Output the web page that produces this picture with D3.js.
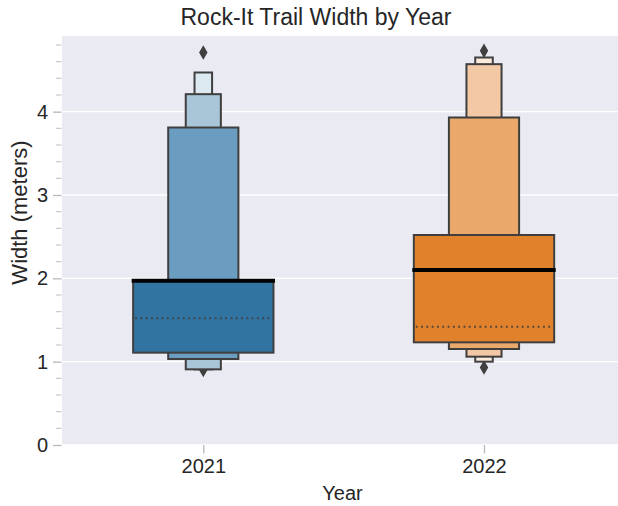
<!DOCTYPE html>
<html>
<head>
<meta charset="utf-8">
<script src="https://cdn.jsdelivr.net/npm/d3@7"></script>
<style>
  html, body { margin: 0; padding: 0; background: #ffffff; }
  svg { display: block; }
  text { font-family: "Liberation Sans", Arial, sans-serif; fill: #262626; }
</style>
</head>
<body>
<svg id="chart" width="618" height="506"></svg>
<script>
// Trail width survey, letter-value summary per year
const years = ["2021", "2022"];
// letter-value boxes, innermost (quartiles) first, then eighths, sixteenths, ...
const lowerValues = [
  [1.108, 1.032, 0.908, 0.908],
  [1.232, 1.152, 1.060, 1.000]
];
const upperValues = [
  [1.98, 3.81, 4.21, 4.47],
  [2.52, 3.93, 4.57, 4.65]
];
const medians = [1.97, 2.10];
const means = [1.52, 1.42];
const outliers = [
  [4.71, 0.90],
  [4.73, 0.93]
];
const yTicks = [0, 1, 2, 3, 4];
const yMinorTicks = d3.range(0, 4.81, 0.2);
const levelColors = [
  ["#3274a1", "#6b9dc1", "#a8c6d8", "#dde9f0"],
  ["#e1812c", "#eaa86a", "#f3c8a5", "#fbebdc"]
];

const svg = d3.select("#chart");
const plot = { left: 62, right: 618, top: 36, bottom: 445 };

const y = d3.scaleLinear().domain([0, 4.908]).range([plot.bottom, plot.top]);
const x = d3.scalePoint().domain(years).range([203.3, 484]);
const unit = x(years[1]) - x(years[0]);  // pixels per category step

// background panel
svg.append("rect")
  .attr("x", plot.left).attr("y", plot.top)
  .attr("width", plot.right - plot.left).attr("height", plot.bottom - plot.top)
  .attr("fill", "#eaeaf2");

// horizontal grid
svg.append("g").selectAll("line").data(yTicks).join("line")
  .attr("x1", plot.left).attr("x2", plot.right)
  .attr("y1", d => y(d)).attr("y2", d => y(d))
  .attr("stroke", "#ffffff").attr("stroke-width", 1.3);

// y axis: major and minor ticks
const yAxis = svg.append("g").attr("transform", `translate(${plot.left - 0.5},0)`);
yAxis.call(d3.axisLeft(y).tickValues(yTicks).tickSize(8.5).tickPadding(5).tickFormat(d3.format("d")))
  .call(g => g.select(".domain").remove())
  .call(g => g.selectAll(".tick line").attr("stroke", "#b8b8b8").attr("stroke-width", 1.3))
  .call(g => g.selectAll(".tick text").attr("font-size", 20).attr("fill", "#262626")
      .style("font-family", "'Liberation Sans', Arial, sans-serif"));
svg.append("g").selectAll("line")
  .data(yMinorTicks.filter(v => Math.abs(v - Math.round(v)) > 0.01))
  .join("line")
  .attr("x1", plot.left - 6).attr("x2", plot.left - 0.5)
  .attr("y1", d => y(d)).attr("y2", d => y(d))
  .attr("stroke", "#c4c4c4").attr("stroke-width", 1.1);

// x axis
const xAxis = svg.append("g").attr("transform", `translate(0,${plot.bottom})`);
xAxis.call(d3.axisBottom(x).tickSize(8.5).tickPadding(5))
  .call(g => g.select(".domain").remove())
  .call(g => g.selectAll(".tick line").attr("stroke", "#b8b8b8").attr("stroke-width", 1.3))
  .call(g => g.selectAll(".tick text").attr("font-size", 20).attr("fill", "#262626")
      .style("font-family", "'Liberation Sans', Arial, sans-serif"));

// letter-value boxes
svg.append("clipPath").attr("id", "plotClip")
  .append("rect").attr("x", plot.left).attr("y", plot.top)
  .attr("width", plot.right - plot.left).attr("height", plot.bottom - plot.top);
const marks = svg.append("g").attr("clip-path", "url(#plotClip)");

const edge = "#3f3f3f";
const diamond = d3.symbol().type(d3.symbolDiamond).size(62);

years.forEach((yr, i) => {
  const cx = x(yr);
  const g = marks.append("g");

  // outliers beneath the boxes
  g.selectAll("path.out").data(outliers[i]).join("path")
    .attr("class", "out")
    .attr("d", diamond)
    .attr("transform", d => `translate(${cx},${y(d)})`)
    .attr("fill", edge);

  // narrowest (outermost) box first, widest on top
  const levels = d3.range(lowerValues[i].length).reverse();
  g.selectAll("rect.lv").data(levels).join("rect")
    .attr("class", "lv")
    .attr("x", k => cx - unit * 0.25 / Math.pow(2, k))
    .attr("width", k => unit * 0.5 / Math.pow(2, k))
    .attr("y", k => y(upperValues[i][k]))
    .attr("height", k => y(lowerValues[i][k]) - y(upperValues[i][k]))
    .attr("fill", k => levelColors[i][k])
    .attr("stroke", edge).attr("stroke-width", 2);

  const half = unit * 0.25;
  // mean
  g.append("line")
    .attr("x1", cx - half + 2).attr("x2", cx + half - 1)
    .attr("y1", y(means[i])).attr("y2", y(means[i]))
    .attr("stroke", edge).attr("stroke-opacity", 0.9)
    .attr("stroke-width", 2).attr("stroke-dasharray", "1.8,3.5");
  // median
  g.append("line")
    .attr("x1", cx - half - 1.5).attr("x2", cx + half + 1.5)
    .attr("y1", y(medians[i])).attr("y2", y(medians[i]))
    .attr("stroke", "#000000").attr("stroke-width", 4);
});

// titles
svg.append("text")
  .attr("x", 316).attr("y", 25)
  .attr("text-anchor", "middle").attr("font-size", 23)
  .text("Rock-It Trail Width by Year");
svg.append("text")
  .attr("x", 342.5).attr("y", 499.5)
  .attr("text-anchor", "middle").attr("font-size", 20)
  .text("Year");
svg.append("text")
  .attr("transform", "translate(26.5,212.5) rotate(-90)")
  .attr("text-anchor", "middle").attr("font-size", 22)
  .text("Width (meters)");
</script>
</body>
</html>
